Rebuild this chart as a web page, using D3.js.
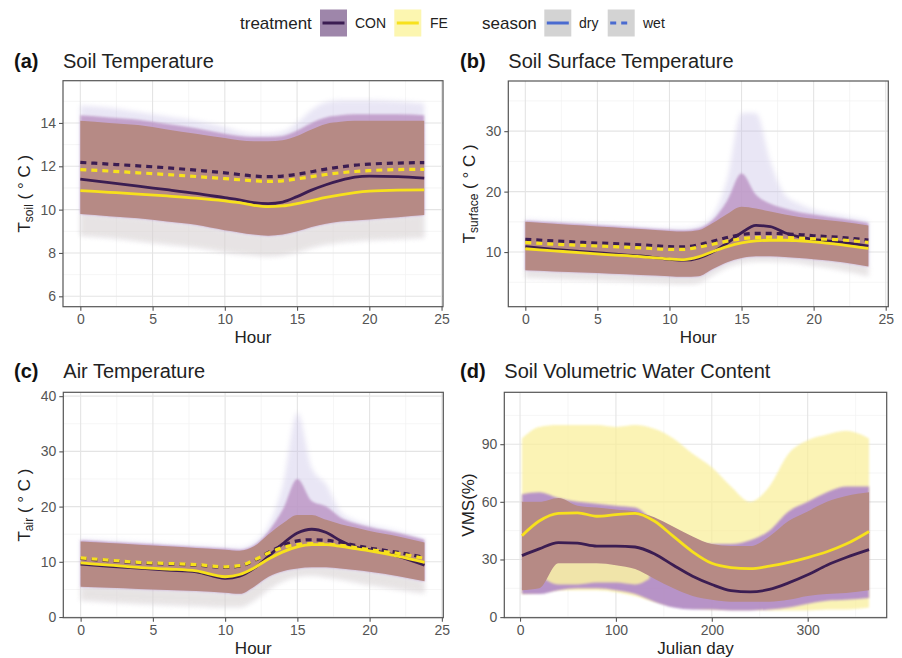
<!DOCTYPE html>
<html><head><meta charset="utf-8">
<script src="https://cdn.jsdelivr.net/npm/d3@7"></script>
<style>body{margin:0;background:#fff;} svg{font-family:"Liberation Sans",Arial,Helvetica,sans-serif;}</style>
</head><body><svg id="c" width="902" height="658"></svg>
<script>
// ---------- DATA ----------
const hours = [0,2,4,6,8,10,11,12,13,14,15,16,17,18,19,20,22,23.8];
const hourTicks = [0,5,10,15,20,25];
const hourMinor = [2.5,7.5,12.5,17.5,22.5];

// (a) soil temperature
const aConDry = [11.41,11.25,11.08,10.92,10.75,10.55,10.45,10.32,10.28,10.35,10.6,10.9,11.15,11.35,11.5,11.55,11.52,11.45];
const aFeDry  = [10.88,10.8,10.72,10.63,10.53,10.4,10.32,10.2,10.14,10.17,10.28,10.42,10.56,10.68,10.78,10.85,10.9,10.91];
const aConWet = [12.18,12.1,12.02,11.93,11.82,11.7,11.62,11.55,11.52,11.55,11.63,11.75,11.87,11.97,12.05,12.1,12.15,12.17];
const aFeWet  = [11.85,11.78,11.7,11.62,11.53,11.43,11.38,11.33,11.3,11.33,11.42,11.52,11.62,11.7,11.76,11.8,11.85,11.86];
const aCoreHi = [14.1,14.0,13.9,13.7,13.5,13.3,13.2,13.15,13.15,13.2,13.4,13.7,13.95,14.05,14.1,14.1,14.1,14.1];
const aCoreLo = [9.8,9.7,9.6,9.45,9.3,9.05,8.95,8.85,8.8,8.85,9.0,9.2,9.35,9.45,9.5,9.55,9.65,9.75];
const aMidHi  = [14.35,14.25,14.15,13.95,13.75,13.5,13.4,13.35,13.35,13.4,13.65,14.0,14.25,14.35,14.4,14.4,14.4,14.35];
const aOutHi  = [14.8,14.7,14.5,14.3,14.1,13.8,13.6,13.5,13.5,13.6,14.0,14.6,14.95,15.05,15.05,15.05,15.0,14.9];
const aOutLo  = [8.8,8.7,8.55,8.4,8.25,8.05,7.95,7.9,7.85,7.9,8.05,8.25,8.4,8.5,8.55,8.6,8.65,8.7];
const aYTicks = [6,8,10,12,14];
const aYMinor = [7,9,11,13,15];

// (b) soil surface temperature
const bConDry = [10.9,10.45,10.05,9.7,9.35,8.8,8.65,9.0,10.0,11.5,13.2,14.4,14.2,13.2,12.5,12.1,11.6,11.0];
const bFeDry  = [10.55,10.2,9.85,9.55,9.25,8.85,8.75,9.2,10.1,10.9,11.5,11.85,11.95,11.95,11.85,11.7,11.2,10.6];
const bConWet = [12.1,11.85,11.6,11.4,11.2,10.9,10.85,11.2,11.8,12.4,12.9,13.1,13.1,13.0,12.9,12.7,12.4,12.0];
const bFeWet  = [11.6,11.3,11.1,10.9,10.7,10.45,10.45,10.8,11.3,11.8,12.2,12.4,12.45,12.4,12.3,12.2,12.0,11.6];
const bCoreHi = [15.0,14.7,14.4,14.1,13.8,13.5,13.4,13.6,14.8,16.3,17.5,17.2,16.7,16.2,15.8,15.5,15.0,14.4];
const bCoreLo = [7.0,6.8,6.6,6.4,6.2,6.0,5.9,6.0,7.2,8.3,9.0,9.3,9.3,9.2,9.0,8.8,8.3,7.6];
const bMidHi  = [15.2,14.9,14.6,14.3,14.0,13.7,13.6,13.9,15.3,18.5,23,19.5,18,17.2,16.6,16.2,15.5,14.8];
const bOutHi  = [15.4,15.1,14.8,14.5,14.2,13.9,13.9,14.3,16,22,33,33,25,19.5,18,17,16,15.2];
const bOutLo  = [5.8,5.6,5.4,5.2,5.0,4.8,4.7,4.9,6.2,7.5,8.2,8.5,8.5,8.4,8.2,7.8,7.0,6.0];
const bYTicks = [10,20,30];
const bYMinor = [5,15,25,35];

// (c) air temperature
const cConDry = [9.6,9.2,8.85,8.5,8.2,7.0,7.4,8.8,11.0,13.3,15.2,15.9,15.3,13.8,12.7,12.2,11.0,9.4];
const cFeDry  = [9.8,9.4,9.0,8.7,8.35,7.3,7.7,8.9,10.5,11.8,12.7,13.1,13.1,12.8,12.4,12.0,11.0,9.9];
const cConWet = [10.6,10.2,9.8,9.6,9.4,9.0,9.2,10.2,11.7,13.0,13.8,14.0,13.9,13.5,13.0,12.5,11.7,10.8];
const cFeWet  = [10.7,10.3,9.9,9.7,9.5,9.1,9.3,10.3,11.6,12.6,13.1,13.3,13.2,13.0,12.6,12.2,11.5,10.6];
const cCoreHi = [13.7,13.4,13.1,12.8,12.5,12.2,12.0,12.8,15.0,17.0,18.5,18.5,17.6,16.8,16.2,15.6,14.6,13.5];
const cCoreLo = [5.5,5.3,5.1,4.9,4.7,4.4,4.2,5.5,7.3,8.3,8.8,9.0,9.0,8.8,8.5,8.2,7.4,6.5];
const cMidHi  = [13.9,13.6,13.3,13.0,12.7,12.4,12.2,13.0,15.5,19.5,25,21,20,18,17,16.3,15.2,14];
const cOutHi  = [14.1,13.8,13.5,13.2,12.9,12.6,12.5,13.5,16.5,24,37,27,24,19,17.5,16.7,15.5,14.2];
const cOutLo  = [3.0,2.7,2.4,2.2,2.0,1.8,1.8,3.0,5.0,6.5,7.3,7.5,7.2,6.8,6.3,5.8,5.0,4.3];
const cYTicks = [0,10,20,30,40];
const cYMinor = [5,15,25,35];

// (d) soil volumetric water content
const days    = [2,20,40,60,80,100,120,140,160,180,200,220,240,260,280,300,320,340,364];
const dCon    = [32,35.5,38.8,38.5,37,37,36.5,33,27,21.3,17,13.8,13.1,14.4,17.8,22,27,31,35.1];
const dFe     = [42.4,50,54,54.3,52.5,53.3,54,50,42,34,28,25.8,25.2,26.5,28.5,31,34,38,44.6];
const dFeHi   = [93,99,100,100,100,99,100,98,93,85,78,68,60,68,85,92,95,97,93];
const dFeLo   = [12,13,14,14,14,13,11,8,6,5,4,4,4,3.5,3.5,3.5,4,4,5];
const dConHi  = [64,65,62,60,59,58,57,50,44,40,38,38,40,45,55,60,65,68,68];
const dConLo  = [12,12,14,15,15,14,12,8,5,4,4,3.5,3.5,4,5,7,8.5,9,10];
const dCoreHi = [60,60,62,58,57,56,55,52,47,42,38,37,37,42,50,55,60,63,65];
const dCoreLo = [14,15,28,28,28,27,25,20,15,11,9,8,8,8,9,11,12,12.5,14];
const patchDays = [25,40,60,80,100,120,135];
const patchLo   = [20,17,17,18,18,17,20];
const patchHi   = [27,29,29,29,28,27,25];
const dayTicks = [0,100,200,300];
const dayMinor = [50,150,250,350];
const dYTicks = [0,30,60,90];
const dYMinor = [15,45,75,105];

// ---------- STYLE ----------
const CON = "#3b1d52", FE = "#f7e11c";
const CORE = "#b68a85", MID = "#bb93c4", OUT = "#c8c1e6", FRINGE = "#e4dfbd";

const svg = d3.select("#c");
const defs = svg.append("defs");
[["b1",2.6],["b2",1.0],["b3",0.5]].forEach(([id,s])=>{
  defs.append("filter").attr("id",id).attr("x","-10%").attr("y","-10%").attr("width","120%").attr("height","120%")
    .append("feGaussianBlur").attr("stdDeviation",s);
});

function panel(p){
  const x = d3.scaleLinear().domain(p.xDomain).range([p.x0,p.x1]);
  const y = d3.scaleLinear().domain(p.yDomain).range([p.y1,p.y0]);
  const g = svg.append("g");
  const cid = "clip"+p.id;
  defs.append("clipPath").attr("id",cid).append("rect")
    .attr("x",p.x0).attr("y",p.y0).attr("width",p.x1-p.x0).attr("height",p.y1-p.y0);
  // grid
  const grid = g.append("g");
  p.xMinor.forEach(v=>grid.append("line").attr("x1",x(v)).attr("x2",x(v)).attr("y1",p.y0).attr("y2",p.y1).attr("stroke","#f1f1f1").attr("stroke-width",0.7));
  p.yMinor.forEach(v=>{ if(y(v)>p.y0) grid.append("line").attr("y1",y(v)).attr("y2",y(v)).attr("x1",p.x0).attr("x2",p.x1).attr("stroke","#f1f1f1").attr("stroke-width",0.7);});
  p.xTicks.forEach(v=>grid.append("line").attr("x1",x(v)).attr("x2",x(v)).attr("y1",p.y0).attr("y2",p.y1).attr("stroke","#e4e4e4").attr("stroke-width",1.1));
  p.yTicks.forEach(v=>grid.append("line").attr("y1",y(v)).attr("y2",y(v)).attr("x1",p.x0).attr("x2",p.x1).attr("stroke","#e4e4e4").attr("stroke-width",1.1));
  // clouds
  const cl = g.append("g").attr("clip-path",`url(#${cid})`);
  p.layers.forEach(L=>{
    const area = d3.area().x(i=>x(L.x[i])).y0(i=>y(L.lo[i])).y1(i=>y(L.hi[i])).curve(d3.curveMonotoneX);
    cl.append("path").attr("d",area(d3.range(L.x.length))).attr("fill",L.fill).attr("opacity",L.op)
      .attr("filter",L.blur?`url(#${L.blur})`:null);
  });
  p.lines.forEach(L=>{
    const line = d3.line().x(i=>x(L.x[i])).y(i=>y(L.y[i])).curve(d3.curveMonotoneX);
    cl.append("path").attr("d",line(d3.range(L.x.length))).attr("fill","none").attr("stroke",L.color)
      .attr("stroke-width",L.dash?3.2:2.8).attr("stroke-dasharray",L.dash?"6,5":null);
  });
  // border
  g.append("rect").attr("x",p.x0).attr("y",p.y0).attr("width",p.x1-p.x0).attr("height",p.y1-p.y0)
    .attr("fill","none").attr("stroke","#555").attr("stroke-width",1.2);
  // axes
  const xa = g.append("g").attr("transform",`translate(0,${p.y1})`)
    .call(d3.axisBottom(x).tickValues(p.xTicks).tickSize(4).tickPadding(3).tickFormat(d3.format("d")));
  const ya = g.append("g").attr("transform",`translate(${p.x0},0)`)
    .call(d3.axisLeft(y).tickValues(p.yTicks).tickSize(4).tickPadding(3).tickFormat(d3.format("d")));
  [xa,ya].forEach(a=>{
    a.select(".domain").remove();
    a.selectAll(".tick line").attr("stroke","#555").attr("stroke-width",1.1);
    a.selectAll(".tick text").attr("fill","#555").attr("font-size",14).attr("font-family","Liberation Sans, Arial, sans-serif");
  });
  // titles
  g.append("text").attr("x",p.lx).attr("y",p.ty).attr("font-size",20).attr("font-weight","bold").attr("fill","#111").text(p.label);
  g.append("text").attr("x",p.x0).attr("y",p.ty).attr("font-size",20).attr("fill","#222").text(p.title);
  g.append("text").attr("x",(p.x0+p.x1)/2).attr("y",p.y1+36).attr("text-anchor","middle").attr("font-size",17).attr("fill","#222").text(p.xTitle);
  const yt = g.append("text").attr("transform",`translate(${p.ytx},${(p.y0+p.y1)/2}) rotate(-90)`)
    .attr("text-anchor","middle").attr("font-size",17).attr("fill","#222");
  p.yTitle.forEach(t=>{
    const s = yt.append("tspan").text(t.t);
    if(t.sub){ s.attr("font-size",12).attr("baseline-shift","-22%"); }
  });
}

function hourLayers(outLo,outHi,midHi,coreLo,coreHi){
  return [
    {x:hours,lo:outLo,hi:outHi,fill:OUT,op:0.4,blur:"b1"},
    {x:hours,lo:outLo,hi:coreLo,fill:FRINGE,op:0.3,blur:"b1"},
    {x:hours,lo:coreLo,hi:midHi,fill:MID,op:0.8,blur:"b2"},
    {x:hours,lo:coreLo,hi:coreHi,fill:CORE,op:1,blur:"b3"}
  ];
}
function hourLines(cd,fd,cw,fw){
  return [
    {x:hours,y:cw,color:CON,dash:true},
    {x:hours,y:cd,color:CON,dash:false},
    {x:hours,y:fw,color:FE,dash:true},
    {x:hours,y:fd,color:FE,dash:false}
  ];
}

panel({id:"a",x0:63,x1:443,y0:80.7,y1:306.7,xDomain:[-1.2,25.1],yDomain:[5.52,15.95],
  xTicks:hourTicks,xMinor:hourMinor,yTicks:aYTicks,yMinor:aYMinor,
  label:"(a)",lx:14,title:"Soil Temperature",ty:68,xTitle:"Hour",ytx:30,
  yTitle:[{t:"T"},{t:"soil",sub:true},{t:" ( ° C )"}],
  layers:hourLayers(aOutLo,aOutHi,aMidHi,aCoreLo,aCoreHi),
  lines:hourLines(aConDry,aFeDry,aConWet,aFeWet)});

panel({id:"b",x0:508.3,x1:888.3,y0:81,y1:306.7,xDomain:[-1.18,25.18],yDomain:[0.96,38.3],
  xTicks:hourTicks,xMinor:hourMinor,yTicks:bYTicks,yMinor:bYMinor,
  label:"(b)",lx:460,title:"Soil Surface Temperature",ty:68,xTitle:"Hour",ytx:475,
  yTitle:[{t:"T"},{t:"surface",sub:true},{t:" ( ° C )"}],
  layers:hourLayers(bOutLo,bOutHi,bMidHi,bCoreLo,bCoreHi),
  lines:hourLines(bConDry,bFeDry,bConWet,bFeWet)});

panel({id:"c",x0:63.3,x1:443.3,y0:392.3,y1:617.7,xDomain:[-1.2,25.1],yDomain:[-0.12,40.7],
  xTicks:hourTicks,xMinor:hourMinor,yTicks:cYTicks,yMinor:cYMinor,
  label:"(c)",lx:14,title:"Air Temperature",ty:378,xTitle:"Hour",ytx:30,
  yTitle:[{t:"T"},{t:"air",sub:true},{t:" ( ° C )"}],
  layers:hourLayers(cOutLo,cOutHi,cMidHi,cCoreLo,cCoreHi),
  lines:hourLines(cConDry,cFeDry,cConWet,cFeWet)});

panel({id:"d",x0:504.3,x1:886.7,y0:392.3,y1:617.7,xDomain:[-16.4,382.4],yDomain:[-0.3,117],
  xTicks:dayTicks,xMinor:dayMinor,yTicks:dYTicks,yMinor:dYMinor,
  label:"(d)",lx:460,title:"Soil Volumetric Water Content",ty:378,xTitle:"Julian day",ytx:474,
  yTitle:[{t:"VMS(%)"}],
  layers:[
    {x:days,lo:dFeLo,hi:dFeHi,fill:"#f9ee96",op:0.7,blur:"b2"},
    {x:days,lo:dConLo,hi:dConHi,fill:"#b48ec8",op:0.95,blur:"b2"},
    {x:patchDays,lo:patchLo,hi:patchHi,fill:"#f7eda6",op:0.9,blur:"b2"},
    {x:days,lo:dCoreLo,hi:dCoreHi,fill:CORE,op:1,blur:"b3"}
  ],
  lines:[{x:days,y:dCon,color:CON},{x:days,y:dFe,color:FE}]});

// ---------- LEGEND ----------
const lg = svg.append("g");
lg.append("text").attr("x",240).attr("y",29).attr("font-size",17).attr("fill","#222").text("treatment");
const keys = [
  {x:320,bg:"#9e86aa",c:CON,dash:false,label:"CON",lx:355},
  {x:394.3,bg:"#fcf6b0",c:FE,dash:false,label:"FE",lx:430},
  {x:544.3,bg:"#d3d3d3",c:"#4a6bd0",dash:false,label:"dry",lx:579},
  {x:607.7,bg:"#d3d3d3",c:"#4a6bd0",dash:true,label:"wet",lx:643}
];
lg.append("text").attr("x",482).attr("y",29).attr("font-size",17).attr("fill","#222").text("season");
keys.forEach(k=>{
  lg.append("rect").attr("x",k.x).attr("y",9.5).attr("width",27).attr("height",27).attr("fill",k.bg);
  lg.append("line").attr("x1",k.x+2.5).attr("x2",k.x+24.5).attr("y1",23).attr("y2",23).attr("stroke",k.c)
    .attr("stroke-width",3).attr("stroke-dasharray",k.dash?"6,5":null);
  lg.append("text").attr("x",k.lx).attr("y",28).attr("font-size",14).attr("fill","#222").text(k.label);
});
</script></body></html>
